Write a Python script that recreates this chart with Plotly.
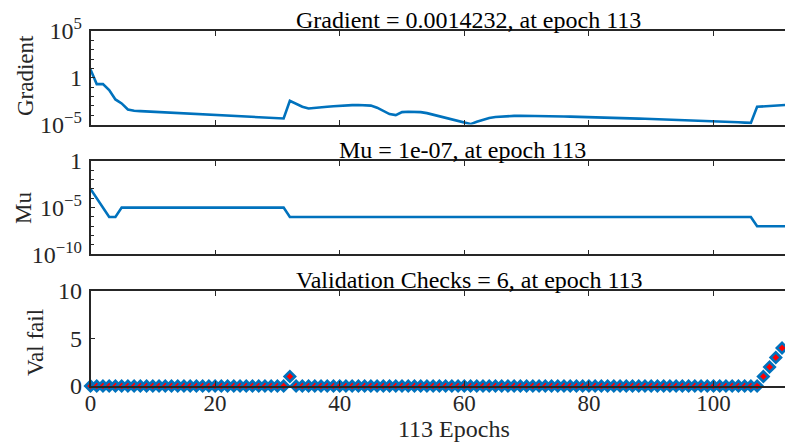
import plotly.graph_objects as go

# ---------------- data ----------------
epochs = list(range(0, 114))

gradient = [
    7.8, 0.21, 0.21, 0.048, 0.0048, 0.0018, 4.0e-4, 2.9e-4, 2.7e-4, 2.5e-4,
    2.3e-4, 2.1e-4, 1.95e-4, 1.8e-4, 1.65e-4, 1.55e-4, 1.4e-4, 1.3e-4, 1.2e-4, 1.1e-4,
    1.0e-4, 9.3e-5, 8.7e-5, 8.1e-5, 7.4e-5, 6.9e-5, 6.5e-5, 6.0e-5, 5.5e-5, 5.1e-5,
    4.8e-5, 4.4e-5, 3.4e-3, 1.6e-3, 7.9e-4, 5.1e-4, 5.6e-4, 6.6e-4, 7.9e-4, 9.1e-4,
    1.05e-3, 1.1e-3, 1.17e-3, 1.2e-3, 1.17e-3, 1.05e-3, 6.3e-4, 2.8e-4, 1.3e-4, 1.0e-4,
    2.1e-4, 2.3e-4, 2.3e-4, 2.1e-4, 1.65e-4, 1.1e-4, 7.6e-5, 5.2e-5, 3.5e-5, 2.4e-5,
    1.6e-5, 1.1e-5, 2.0e-5, 3.4e-5, 5.0e-5, 6.3e-5, 7.2e-5, 7.9e-5, 8.3e-5, 8.5e-5,
    8.5e-5, 8.5e-5, 8.3e-5, 8.1e-5, 7.9e-5, 7.6e-5, 7.2e-5, 6.9e-5, 6.5e-5, 6.0e-5,
    5.6e-5, 5.4e-5, 5.2e-5, 5.0e-5, 4.9e-5, 4.7e-5, 4.6e-5, 4.4e-5, 4.2e-5, 4.1e-5,
    3.9e-5, 3.8e-5, 3.6e-5, 3.5e-5, 3.3e-5, 3.2e-5, 3.0e-5, 2.8e-5, 2.6e-5, 2.45e-5,
    2.3e-5, 2.1e-5, 2.0e-5, 1.85e-5, 1.75e-5, 1.6e-5, 1.5e-5, 7.8e-4, 8.9e-4, 1.0e-3,
    1.12e-3, 1.23e-3, 1.32e-3, 0.0014232,
]

mu = ([1e-3, 1e-4, 1e-5, 1e-6, 1e-6]
      + [1e-5] * 27          # epochs 5..31
      + [1e-6] * 75          # epochs 32..106
      + [1e-7] * 7)          # epochs 107..113

val_fail = ([0] * 32 + [1] + [0] * 75 + [1, 2, 3, 4, 5, 6])

x_tickvals = [0, 20, 40, 60, 80, 100]
grad_tickvals = [1e-5, 1, 1e5]
grad_ticktext = ["10<sup>\u22125</sup>", "1", "10<sup>5</sup>"]
mu_tickvals = [1e-10, 1e-5, 1]
mu_ticktext = ["10<sup>\u221210</sup>", "10<sup>\u22125</sup>", "1"]
vf_tickvals = [0, 5, 10]

titles = ["Gradient = 0.0014232, at epoch 113",
          "Mu = 1e-07, at epoch 113",
          "Validation Checks = 6, at epoch 113"]
ylabels = ["Gradient", "Mu", "Val fail"]
xlabel = "113 Epochs"

# ---------------- layout geometry ----------------
W, H = 785, 444
FONT = "Liberation Serif"
AX = "#262626"
BLUE = "#0072BD"

x_left = 90.5
px_per_epoch = 6.23
x_max = (W - x_left) / px_per_epoch

def ydom(top, bottom):
    return [(H - bottom) / H, (H - top) / H]

fig = go.Figure()
fig.add_trace(go.Scatter(x=epochs, y=gradient, mode="lines",
                         line=dict(color=BLUE, width=2.6), xaxis="x", yaxis="y"))
fig.add_trace(go.Scatter(x=epochs, y=mu, mode="lines",
                         line=dict(color=BLUE, width=2.6), xaxis="x2", yaxis="y2"))
fig.add_trace(go.Scatter(x=epochs, y=val_fail, mode="markers",
                         marker=dict(symbol="diamond", size=8, color="red",
                                     line=dict(color=BLUE, width=2.6)),
                         cliponaxis=False, xaxis="x3", yaxis="y3"))

xcommon = dict(domain=[x_left / W, 1], range=[0, x_max], tickvals=x_tickvals,
               ticks="inside", ticklen=5, tickwidth=1.3, tickcolor=AX,
               showline=True, linecolor=AX, linewidth=1.5, mirror="allticks",
               showgrid=False, zeroline=False, automargin=False,
               ticklabelstandoff=-4,
               tickfont=dict(family=FONT, size=23, color=AX))
ycommon = dict(ticks="inside", ticklen=5, tickwidth=1.3, tickcolor=AX,
               showline=True, linecolor=AX, linewidth=1.5, mirror=False,
               showgrid=False, zeroline=False, automargin=False,
               ticklabelstandoff=2,
               tickfont=dict(family=FONT, size=24, color=AX))

fig.update_layout(
    width=W, height=H, margin=dict(l=0, r=0, t=0, b=0, autoexpand=False),
    paper_bgcolor="white", plot_bgcolor="white", showlegend=False,
    xaxis=dict(xcommon, anchor="y", showticklabels=False),
    xaxis2=dict(xcommon, anchor="y2", showticklabels=False),
    xaxis3=dict(xcommon, anchor="y3", showticklabels=True),
    yaxis=dict(ycommon, type="log", range=[-5, 5], domain=ydom(31, 124.5),
               tickvals=grad_tickvals, ticktext=grad_ticktext,
               minor=dict(ticks="inside", dtick=1, ticklen=4, tickcolor=AX, tickwidth=1)),
    yaxis2=dict(ycommon, type="log", range=[-10, 0], domain=ydom(161, 254.3),
                tickvals=mu_tickvals, ticktext=mu_ticktext,
                minor=dict(ticks="inside", dtick=1, ticklen=4, tickcolor=AX, tickwidth=1)),
    yaxis3=dict(ycommon, range=[0, 10], domain=ydom(291, 386),
                tickvals=vf_tickvals),
)

title_pos = [(468, 31), (462, 161), (469, 291)]
for t, (cx, top) in zip(titles, title_pos):
    fig.add_annotation(text=t, x=cx / W, y=(H - top) / H, xref="paper", yref="paper",
                       xanchor="center", yanchor="bottom", showarrow=False,
                       yshift=-4, font=dict(family=FONT, size=24, color="#000000"))

ylab_pos = [(25, 76), (23, 208), (35, 343)]
for t, (cx, cy) in zip(ylabels, ylab_pos):
    fig.add_annotation(text=t, x=cx / W, y=(H - cy) / H, xref="paper", yref="paper",
                       xanchor="center", yanchor="middle", textangle=-90, showarrow=False,
                       font=dict(family=FONT, size=23, color=AX))

fig.add_annotation(text=xlabel, x=454 / W, y=(H - 429) / H, xref="paper", yref="paper",
                   xanchor="center", yanchor="middle", showarrow=False, borderpad=0,
                   font=dict(family=FONT, size=24, color=AX))

fig.write_html("out.html")
